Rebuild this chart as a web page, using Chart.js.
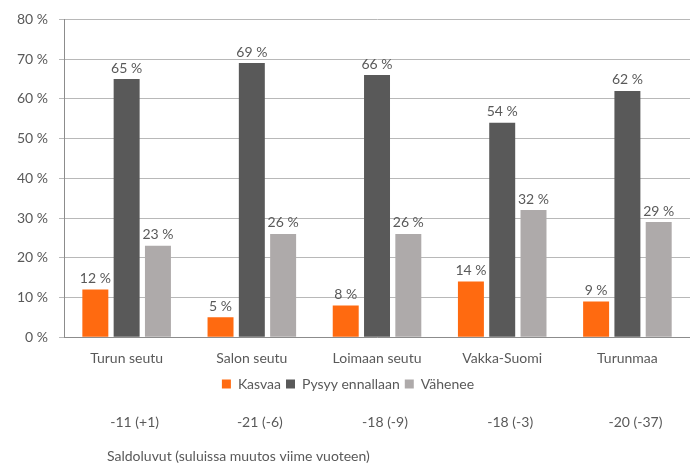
<!DOCTYPE html>
<html><head><meta charset="utf-8">
<script src="https://cdn.jsdelivr.net/npm/chart.js@4/dist/chart.umd.min.js"></script>
<style>html,body{margin:0;padding:0;background:#fff}#wrap{width:690px;height:466px}</style>
</head><body><div id="wrap"><canvas id="c" width="690" height="466"></canvas></div>
<script>
const categories = ["Turun seutu","Salon seutu","Loimaan seutu","Vakka-Suomi","Turunmaa"];
const kasvaa = [12,5,8,14,9];
const pysyy = [65,69,66,54,62];
const vahenee = [23,26,26,32,29];
const saldo = ["-11 (+1)","-21 (-6)","-18 (-9)","-18 (-3)","-20 (-37)"];
const footnote = "Saldoluvut (suluissa muutos viime vuoteen)";
const FONT = "Lato, 'Open Sans', sans-serif";
const TXT = "#595959";

const labelPlugin = {
  id:'labels',
  afterDatasetsDraw(chart){
    const ctx = chart.ctx;
    ctx.save();
    ctx.font = "14px " + FONT;
    ctx.fillStyle = TXT;
    ctx.textAlign = "center";
    ctx.textBaseline = "bottom";
    chart.data.datasets.forEach((ds,i)=>{
      chart.getDatasetMeta(i).data.forEach((bar,j)=>{
        ctx.fillText(ds.data[j] + " %", bar.x, bar.y - 4);
      });
    });
    const xs = chart.scales.x;
    ctx.textBaseline = "middle";
    saldo.forEach((s,j)=>{
      ctx.fillText(s, xs.getPixelForValue(j) + 8, 422);
    });
    ctx.textAlign = "left";
    ctx.fillText(footnote, 107, 456);
    ctx.restore();
  }
};

new Chart(document.getElementById('c'), {
  type:'bar',
  data:{
    labels: categories,
    datasets:[
      {label:"Kasvaa", data:kasvaa, backgroundColor:"#FF6A10"},
      {label:"Pysyy ennallaan", data:pysyy, backgroundColor:"#595959"},
      {label:"Vähenee", data:vahenee, backgroundColor:"#AEAAAA"}
    ]
  },
  options:{
    responsive:false,
    animation:false,
    layout:{padding:{top:8,right:0,left:6,bottom:65}},
    datasets:{bar:{categoryPercentage:0.75,barPercentage:0.83}},
    plugins:{
      legend:{position:'bottom',labels:{boxWidth:9,boxHeight:9,color:TXT,font:{family:FONT,size:14},padding:5}},
      tooltip:{enabled:false}
    },
    scales:{
      x:{
        grid:{display:false},
        border:{color:"#8C8C8C"},
        ticks:{color:TXT,font:{family:FONT,size:14},padding:5}
      },
      y:{
        min:0,max:80,
        ticks:{stepSize:10,color:TXT,font:{family:FONT,size:14},padding:11,callback:v=>v+" %"},
        grid:{color:"#B8B8B8",tickLength:5},
        border:{color:"#8C8C8C"}
      }
    }
  },
  plugins:[labelPlugin]
});
</script></body></html>
